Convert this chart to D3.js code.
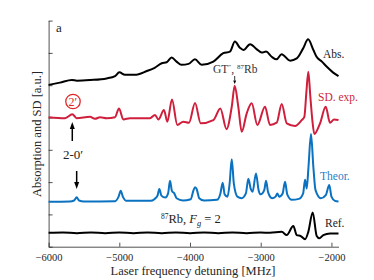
<!DOCTYPE html>
<html>
<head>
<meta charset="utf-8">
<script src="https://cdn.jsdelivr.net/npm/d3@7"></script>
<style>
  body { margin: 0; background: #fff; }
  svg { font-family: "Liberation Serif", "DejaVu Serif", serif; }
  .axis path, .axis line { stroke: #262626; stroke-width: 0.8; }
  .axis text { font-family: "Liberation Serif", serif; font-size: 10.5px; fill: #262626; }
</style>
</head>
<body>
<svg class="chart"></svg>
<script>

// Spectra: [detuning MHz, signal a.u.]
var absData = [[-6000,5.01],[-5840,5.08],[-5670,5.16],[-5600,5.14],[-5410,5.16],[-5180,5.21],[-5060,5.28],[-5000,5.40],[-4920,5.32],[-4780,5.32],[-4610,5.44],[-4500,5.54],[-4400,5.68],[-4330,5.71],[-4260,5.86],[-4190,5.73],[-4120,5.63],[-4020,5.66],[-3930,5.80],[-3835,5.63],[-3670,5.73],[-3530,5.99],[-3435,6.04],[-3365,6.35],[-3295,6.16],[-3245,6.09],[-3150,6.27],[-3055,6.11],[-2985,6.01],[-2925,6.04],[-2845,5.88],[-2775,5.80],[-2705,5.96],[-2585,5.76],[-2490,5.83],[-2400,6.14],[-2330,6.42],[-2255,6.09],[-2210,5.88],[-2135,5.73],[-2065,5.57],[-1975,5.39],[-1900,5.28]];

var sdData = [[-6000,4.01],[-5768,3.98],[-5665,4.10],[-5603,3.98],[-5414,4.02],[-5344,3.96],[-5273,4.01],[-5178,3.98],[-5061,4.01],[-5004,4.28],[-4943,3.94],[-4849,3.98],[-4566,3.98],[-4495,4.08],[-4448,3.94],[-4368,4.23],[-4321,3.87],[-4255,4.56],[-4180,3.77],[-4095,3.87],[-4014,3.84],[-3929,4.45],[-3849,3.82],[-3670,3.92],[-3571,4.28],[-3484,3.64],[-3410,4.33],[-3368,4.98],[-3317,4.33],[-3269,3.56],[-3198,4.13],[-3127,4.44],[-3048,3.77],[-2939,4.33],[-2869,3.77],[-2774,3.84],[-2703,4.42],[-2632,3.82],[-2515,3.74],[-2420,3.92],[-2383,4.02],[-2355,4.76],[-2327,5.42],[-2299,4.67],[-2270,3.92],[-2242,3.49],[-2161,3.82],[-2081,4.33],[-2020,3.84],[-1963,3.94],[-1900,3.92]];

var theorData = [[-6000,1.39],[-5700,1.40],[-5640,1.43],[-5603,1.53],[-5570,1.43],[-5500,1.40],[-5060,1.41],[-5010,1.55],[-4980,1.73],[-4950,1.55],[-4900,1.42],[-4560,1.42],[-4500,1.48],[-4460,1.58],[-4434,1.79],[-4405,1.58],[-4350,1.52],[-4310,1.65],[-4283,2.04],[-4255,1.72],[-4222,1.65],[-4190,1.50],[-4100,1.43],[-3990,1.47],[-3950,1.75],[-3929,1.84],[-3905,1.78],[-3870,1.50],[-3800,1.43],[-3620,1.45],[-3570,1.65],[-3538,1.98],[-3510,1.62],[-3470,1.55],[-3440,1.95],[-3410,2.71],[-3380,1.95],[-3330,1.55],[-3270,1.50],[-3210,1.65],[-3175,2.10],[-3140,1.78],[-3115,1.70],[-3067,2.27],[-3030,1.75],[-3000,1.62],[-2950,1.75],[-2925,2.04],[-2895,1.68],[-2840,1.50],[-2790,1.55],[-2765,1.65],[-2740,1.55],[-2690,1.65],[-2656,2.01],[-2625,1.62],[-2560,1.45],[-2460,1.48],[-2400,1.65],[-2373,2.07],[-2349,1.80],[-2325,2.45],[-2289,3.49],[-2255,2.45],[-2225,1.75],[-2150,1.50],[-2080,1.60],[-2030,1.91],[-2000,1.55],[-1950,1.42],[-1900,1.40]];

var refData = [[-6000,0.43],[-5800,0.44],[-5600,0.42],[-5400,0.44],[-5200,0.42],[-5000,0.44],[-4800,0.42],[-4600,0.44],[-4400,0.42],[-4200,0.44],[-4000,0.42],[-3800,0.44],[-3600,0.42],[-3400,0.44],[-3200,0.42],[-3000,0.44],[-2869,0.43],[-2703,0.46],[-2632,0.36],[-2539,0.64],[-2491,0.36],[-2434,0.33],[-2373,0.23],[-2327,0.46],[-2265,1.06],[-2208,0.33],[-2171,0.26],[-2115,0.36],[-2020,0.41],[-1900,0.41]];

var xTicks = [-6000, -5000, -4000, -3000, -2000];
var yTicks = [0, 1, 2, 3, 4, 5, 6, 7];

window.onload = function () {

    var width = 374;
    var height = 280;

    var svgElement = d3.select("svg.chart")
        .attr("width", width)
        .attr("height", height);

    var x = d3.scaleLinear().domain([-6000, -1900]).range([48.6, 338.5]);
    var y = d3.scaleLinear().domain([0, 7]).range([246.7, 20.6]);

    // MATLAB-style axes: ticks pointing in, no labels on y
    svgElement.append("g")
        .attr("class", "axis")
        .attr("transform", "translate(0," + y(0) + ")")
        .call(d3.axisBottom(x).tickValues(xTicks).tickSize(-4).tickPadding(9).tickSizeOuter(0).tickFormat(d3.format("d")))
        .selectAll("text").attr("dy", "0.55em");

    svgElement.append("g")
        .attr("class", "axis")
        .attr("transform", "translate(" + x(-6000) + ",0)")
        .call(d3.axisLeft(y).tickValues(yTicks).tickSize(-4).tickSizeOuter(0).tickFormat(""));

    var line = d3.line()
        .x(function (d) { return x(d[0]); })
        .y(function (d) { return y(d[1]); })
        .curve(d3.curveMonotoneX);

    function addCurve (data, colour) {
        svgElement.append("path")
            .datum(data)
            .attr("fill", "none")
            .attr("stroke", colour)
            .attr("stroke-width", 2)
            .attr("stroke-linejoin", "round")
            .attr("d", line);
    };

    addCurve(absData, "#000");
    addCurve(sdData, "#cf1f3c");
    addCurve(theorData, "#0a72c0");
    addCurve(refData, "#000");

    function addText (text, px, py, colour, size) {
        return svgElement.append("text")
            .attr("x", px)
            .attr("y", py)
            .attr("fill", colour)
            .style("font-size", size + "px")
            .text(text);
    };

    addText("a", 56, 32, "#222", 13);
    addText("Abs.", 323, 58, "#222", 11.5);
    addText("SD. exp.", 318, 101, "#cf1f3c", 11.5);
    addText("Theor.", 320, 180, "#1f7fc8", 11.5);
    addText("Ref.", 325, 227, "#222", 11.5);
    addText("2-0\u2032", 63, 159, "#222", 13);

    // GT'', 87Rb label
    var gt = svgElement.append("text").attr("x", 213).attr("y", 73).attr("fill", "#333").style("font-size", "11.5px");
    gt.append("tspan").text("GT");
    gt.append("tspan").attr("dy", -4).style("font-size", "7px").text("\u2033");
    gt.append("tspan").attr("dy", 4).text(", ");
    gt.append("tspan").attr("dy", -4).style("font-size", "7px").text("87");
    gt.append("tspan").attr("dy", 4).text("Rb");

    // 87Rb, Fg = 2 label
    var rb = svgElement.append("text").attr("x", 161).attr("y", 223).attr("fill", "#222").style("font-size", "12.5px");
    rb.append("tspan").attr("dy", -4).style("font-size", "7.5px").text("87");
    rb.append("tspan").attr("dy", 4).text("Rb, ");
    rb.append("tspan").style("font-style", "italic").text("F");
    rb.append("tspan").attr("dy", 3).style("font-style", "italic").style("font-size", "8.5px").text("g");
    rb.append("tspan").attr("dy", -3).text(" = 2");

    // circled 2'
    svgElement.append("circle")
        .attr("cx", x(-5655)).attr("cy", 101.5).attr("r", 7.2)
        .attr("fill", "none").attr("stroke", "#e3262a").attr("stroke-width", 1.3);
    addText("2\u2032", x(-5655) - 4.5, 106, "#e3262a", 12);

    // arrows
    function addArrow (px, y1, y2, headW, headL, strokeW) {
        var dir = y2 > y1 ? 1 : -1;
        svgElement.append("line")
            .attr("x1", px).attr("y1", y1).attr("x2", px).attr("y2", y2 - dir * headL)
            .attr("stroke", "#000").attr("stroke-width", strokeW);
        svgElement.append("path")
            .attr("d", "M" + (px - headW / 2) + "," + (y2 - dir * headL) + "L" + px + "," + y2 + "L" + (px + headW / 2) + "," + (y2 - dir * headL) + "Z")
            .attr("fill", "#000");
    };

    addArrow(x(-5665), 141, 122, 5, 7, 1.5);
    addArrow(x(-5603), 171, 189, 5, 7, 1.5);
    addArrow(x(-3368), 76, 84, 3, 3.5, 0.8);

    // axis titles
    svgElement.append("text")
        .attr("transform", "translate(41," + 134 + ") rotate(-90)")
        .attr("text-anchor", "middle")
        .attr("fill", "#262626")
        .style("font-size", "12.5px")
        .text("Absorption and SD [a.u.]");

    svgElement.append("text")
        .attr("x", 193)
        .attr("y", 275)
        .attr("text-anchor", "middle")
        .attr("fill", "#262626")
        .style("font-size", "12.5px")
        .text("Laser frequency detuning [MHz]");
};
</script>
</body>
</html>
